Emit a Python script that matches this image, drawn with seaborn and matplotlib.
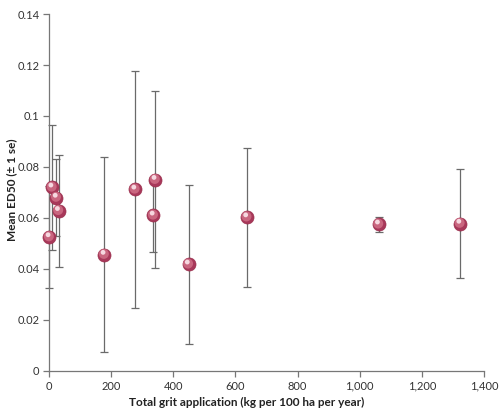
import numpy as np
import pandas as pd
import matplotlib
matplotlib.use('Agg')
import matplotlib.pyplot as plt
import seaborn as sns
from matplotlib.ticker import FuncFormatter

# values
grit = [1, 10, 24, 31, 178, 277, 336, 342, 449, 637, 1061, 1323]
ed50 = [0.0525, 0.072, 0.068, 0.0628, 0.0456, 0.0712, 0.061, 0.0750, 0.0418, 0.0603, 0.0575, 0.0578]
se = [0.0200, 0.0245, 0.0150, 0.0220, 0.0383, 0.0465, 0.0145, 0.0348, 0.0312, 0.0272, 0.0030, 0.0215]

data = pd.DataFrame({'grit': grit, 'ed50': ed50, 'se': se})

sns.set_style('white')
plt.rcParams['font.family'] = ['Lato', 'DejaVu Sans']

fig = plt.figure(figsize=(5, 4.13), dpi=100)
ax = fig.add_axes([0.098, 0.102, 0.87, 0.864])

ax.errorbar(data.grit, data.ed50, yerr=data.se, fmt='none', ecolor='#6a6a6a',
            elinewidth=0.9, capsize=2.8, capthick=0.9, zorder=1, clip_on=False)

# ball-like markers: rim, body, highlight
sns.scatterplot(x='grit', y='ed50', data=data, ax=ax, s=88, color='#a8385a',
                edgecolor='#9a2e4c', linewidth=0.5, zorder=3, clip_on=False, legend=False)
sns.scatterplot(x=data.grit - 1.5, y=data.ed50 + 0.0003, ax=ax, s=52, color='#c9667f',
                edgecolor='none', zorder=4, clip_on=False, legend=False)
sns.scatterplot(x=data.grit - 4, y=data.ed50 + 0.0009, ax=ax, s=12, color='#f6d8e0',
                edgecolor='none', zorder=5, clip_on=False, legend=False)

ax.set_xlim(0, 1400)
ax.set_ylim(0, 0.14)
ax.set_xticks(np.arange(0, 1401, 200))
ax.set_yticks(np.arange(0, 0.141, 0.02))
ax.xaxis.set_major_formatter(FuncFormatter(lambda v, p: f'{v:,.0f}'))
ax.yaxis.set_major_formatter(FuncFormatter(lambda v, p: '0' if v == 0 else f'{v:.2f}'.rstrip('0')))

for s in ['top', 'right']:
    ax.spines[s].set_visible(False)
for s in ['left', 'bottom']:
    ax.spines[s].set_color('#777777')
    ax.spines[s].set_linewidth(0.9)
ax.tick_params(axis='both', direction='out', length=4, width=0.9, color='#777777',
               labelsize=8, labelcolor='#333333', pad=3)
ax.tick_params(axis='both', left=True, bottom=True)

ax.set_xlabel('Total grit application (kg per 100 ha per year)', fontsize=8.5,
              fontweight='bold', color='#222222')
ax.set_ylabel('Mean ED50 (± 1 se)', fontsize=8.5, fontweight='bold', color='#222222')
ax.xaxis.set_label_coords(0.454, -0.073)
ax.yaxis.set_label_coords(-0.074, 0.507)

fig.savefig('out.png', dpi=100)
